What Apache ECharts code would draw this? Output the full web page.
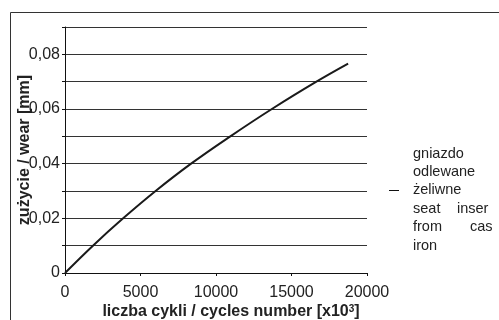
<!DOCTYPE html>
<html>
<head>
<meta charset="utf-8">
<script src="https://cdn.jsdelivr.net/npm/echarts@6/dist/echarts.min.js"></script>
<style>
  html, body { margin: 0; padding: 0; background: #fff; }
  #chart { width: 499px; height: 320px; }
</style>
</head>
<body>
<div id="chart"></div>
<script>
// values
const cycles = [0, 1850, 3850, 6000, 8350, 10950, 13700, 16650, 18750];
const wear = [0, 0.01, 0.02, 0.03, 0.04, 0.05, 0.06, 0.07, 0.0766];
const seriesName = "gniazdo odlewane żeliwne seat insert from cast iron";
const legendLines = [
  ["gniazdo"],
  ["odlewane"],
  ["żeliwne"],
  ["seat", "inser"],
  ["from", "cas"],
  ["iron"],
];

const font = '"Liberation Sans", Arial, sans-serif';
const chart = echarts.init(document.getElementById("chart"));

const legendText = [];
legendLines.forEach((words, i) => {
  const y = 155 + i * 18.4;
  legendText.push({
    type: "text", left: 413, top: y - 9,
    style: { text: words[0], font: "14.5px " + font, fill: "#222" },
  });
  if (words[1]) {
    legendText.push({
      type: "text", left: words[1] === "inser" ? 457 : 470, top: y - 9,
      style: { text: words[1], font: "14.5px " + font, fill: "#222" },
    });
  }
});

const option = {
  animation: false,
  grid: { left: 65, top: 27, right: 132, bottom: 47, outerBoundsMode: "none" },
  xAxis: {
    type: "value",
    min: 0,
    max: 20000,
    interval: 5000,
    name: "liczba cykli / cycles number [x10{sup|3}]",
    nameLocation: "middle",
    nameGap: 31,
    nameMoveOverlap: false,
    nameTextStyle: {
      fontFamily: font, fontSize: 16, fontWeight: "bold", color: "#222",
      padding: [0, 0, 0, 30],
      rich: { sup: { fontSize: 10, fontWeight: "bold", verticalAlign: "top", padding: [0, 0, 6, 0] } },
    },
    axisLine: { lineStyle: { color: "#111", width: 1 } },
    axisTick: { show: true, length: 3, lineStyle: { color: "#111" } },
    axisLabel: { fontFamily: font, fontSize: 16, color: "#222", margin: 12, formatter: (v) => String(v) },
    splitLine: { show: false },
  },
  yAxis: {
    type: "value",
    min: 0,
    max: 0.09,
    interval: 0.01,
    name: "zużycie / wear [mm]",
    nameLocation: "middle",
    nameGap: 32,
    nameMoveOverlap: false,
    nameTextStyle: { fontFamily: font, fontSize: 16, fontWeight: "bold", color: "#222" },
    axisLine: { show: true, lineStyle: { color: "#111", width: 1 } },
    axisTick: { show: true, length: 3, lineStyle: { color: "#111" } },
    axisLabel: {
      fontFamily: font, fontSize: 16, color: "#222", margin: 5,
      formatter: (v) => {
        const k = Math.round(v * 100);
        if (k % 2) return "";
        return k === 0 ? "0" : "0," + String(k).padStart(2, "0");
      },
    },
    splitLine: { show: true, lineStyle: { color: "#333", width: 1 } },
  },
  series: [
    {
      name: seriesName,
      type: "line",
      data: cycles.map((c, i) => [c, wear[i]]),
      smooth: 0.4,
      symbol: "none",
      lineStyle: { color: "#1a1a1a", width: 2 },
    },
  ],
  graphic: [
    {
      type: "rect",
      shape: { x: 10.5, y: 12.5, width: 520, height: 330 },
      style: { fill: null, stroke: "#333", lineWidth: 1 },
      silent: true,
    },
    {
      type: "line",
      shape: { x1: 389, y1: 190.5, x2: 399, y2: 190.5 },
      style: { stroke: "#111", lineWidth: 1 },
    },
    ...legendText,
  ],
};

chart.setOption(option);
</script>
</body>
</html>
